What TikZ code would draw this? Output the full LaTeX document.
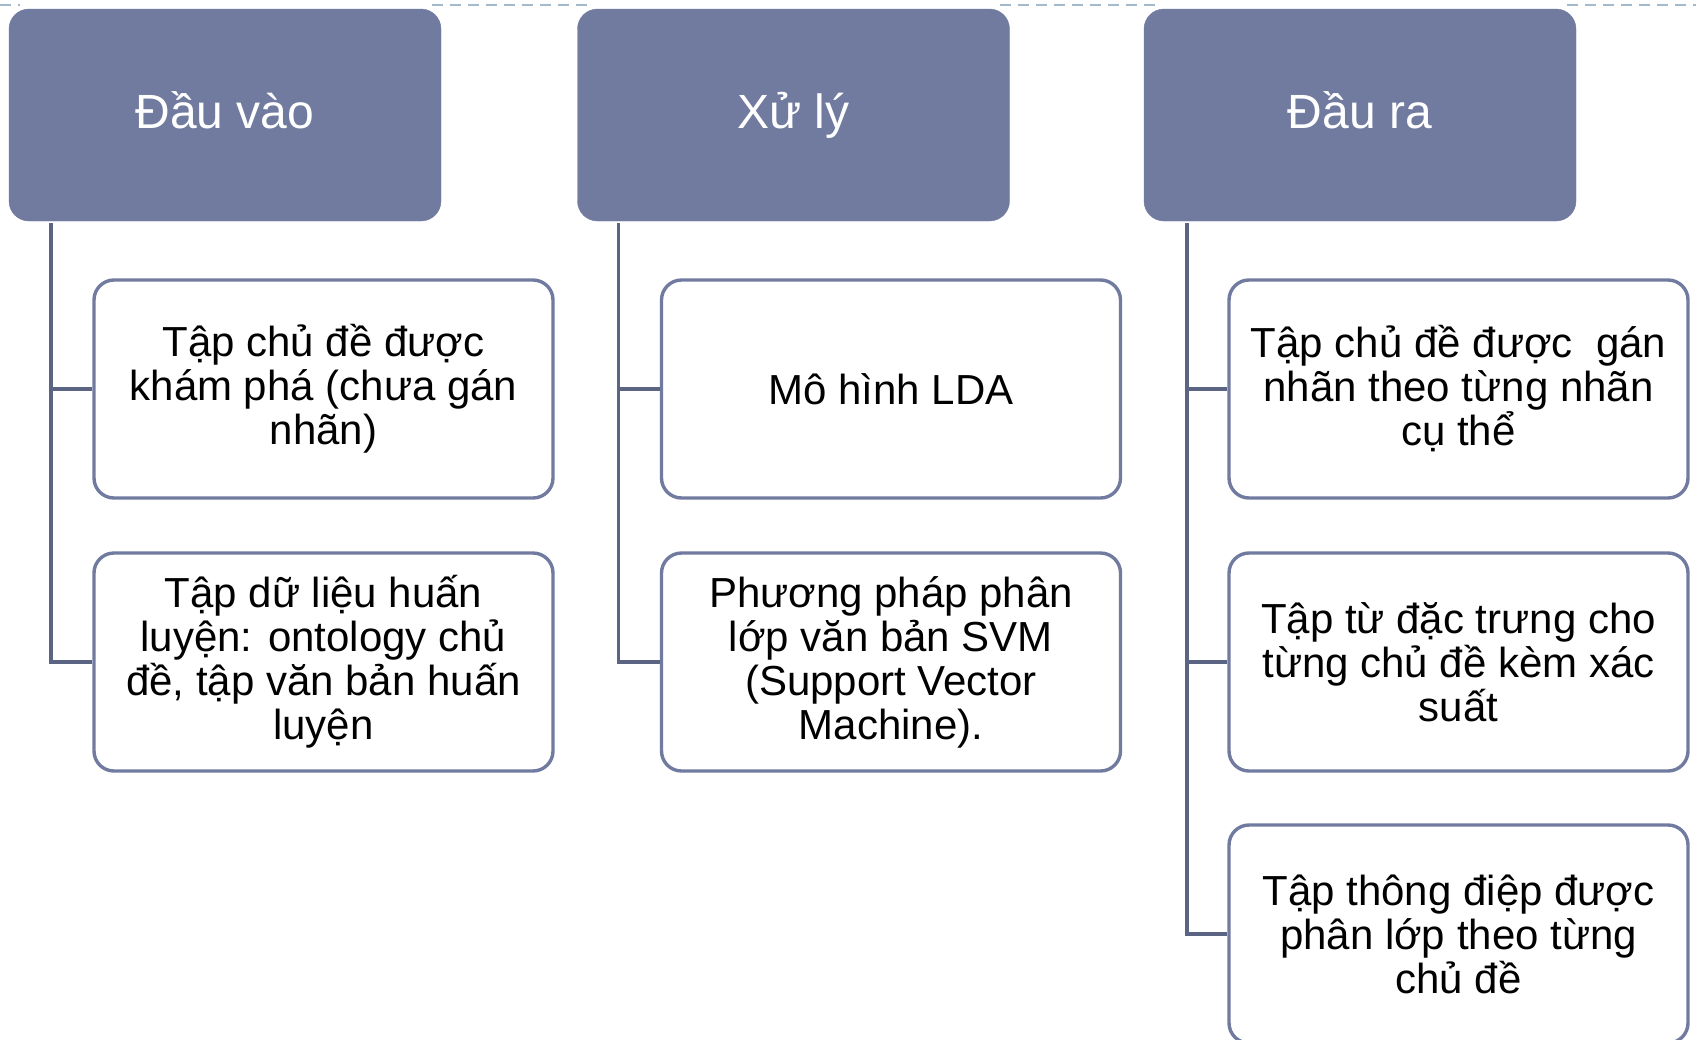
\documentclass[tikz,border=0pt]{standalone}
\usepackage{fontspec}
\setmainfont{Liberation Sans}
\definecolor{headfill}{HTML}{717BA0}
\definecolor{boxline}{HTML}{717BA0}
\definecolor{conline}{HTML}{5B6483}
\definecolor{dashline}{HTML}{A3B9CC}
\tikzset{
  head/.style={rounded corners=20pt, fill=headfill, draw=headfill, minimum width=432pt, minimum height=212pt,
    text=white, font=\fontsize{48}{56}\selectfont, inner sep=0pt, text height=36pt, text depth=10pt},
  child/.style={rounded corners=20pt, draw=boxline, line width=3.4pt, fill=white, minimum width=459pt, minimum height=218pt,
    align=center, font=\fontsize{42}{44}\selectfont, inner sep=0pt},
  conn/.style={draw=conline, line width=3.5pt},
  topdash/.style={draw=dashline, line width=1.8pt, dash pattern=on 11pt off 7pt}
}
\begin{document}
\begin{tikzpicture}[x=1pt,y=-1pt]
\useasboundingbox (0,0) rectangle (1696,1039);
% dashed guide line at top
\draw[topdash] (0,5) -- (20,5);
\draw[topdash] (432,5) -- (590,5);
\draw[topdash] (1000,5) -- (1157,5);
\draw[topdash] (1567,5) -- (1696,5);
% headers
\node[head] (h1) at (225,115) {Đầu vào};
\node[head] (h2) at (793.5,115) {Xử lý};
\node[head] (h3) at (1360,115) {Đầu ra};
% children
\node[child] (c11) at (323.5,389) {Tập chủ đề được\\khám phá (chưa gán\\nhãn)};
\node[child] (c12) at (323.5,662) {Tập dữ liệu huấn\\luyện: ontology chủ\\đề, tập văn bản huấn\\luyện};
\node[child] (c21) at (891,389) {Mô hình LDA};
\node[child] (c22) at (891,662) {Phương pháp phân\\lớp văn bản SVM\\(Support Vector\\Machine).};
\node[child] (c31) at (1458.5,389) {Tập chủ đề được\ \ gán\\nhãn theo từng nhãn\\cụ thể};
\node[child] (c32) at (1458.5,662) {Tập từ đặc trưng cho\\từng chủ đề kèm xác\\suất};
\node[child] (c33) at (1458.5,934) {Tập thông điệp được\\phân lớp theo từng\\chủ đề};
% connector trunks
\coordinate (t1) at ([xshift=42pt,yshift=-2pt]h1.south west);
\coordinate (t2) at ([xshift=41pt,yshift=-2pt]h2.south west);
\coordinate (t3) at ([xshift=43pt,yshift=-2pt]h3.south west);
\draw[conn] (t1) |- (c12.west);
\draw[conn] (c11.west) -- (c11.west -| t1);
\draw[conn] (t2) |- (c22.west);
\draw[conn] (c21.west) -- (c21.west -| t2);
\draw[conn] (t3) |- (c33.west);
\draw[conn] (c31.west) -- (c31.west -| t3);
\draw[conn] (c32.west) -- (c32.west -| t3);
\end{tikzpicture}
\end{document}
